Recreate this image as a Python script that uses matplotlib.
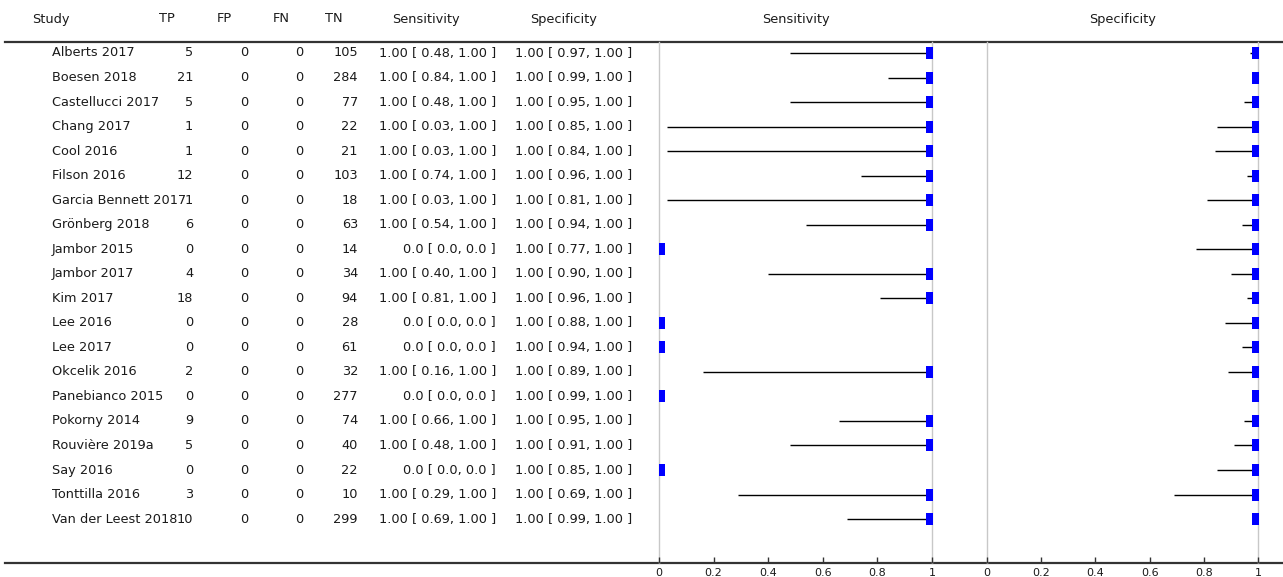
import numpy as np
import matplotlib
matplotlib.use("Agg")
import matplotlib.pyplot as plt

studies = ["Alberts 2017", "Boesen 2018", "Castellucci 2017", "Chang 2017", "Cool 2016",
           "Filson 2016", "Garcia Bennett 2017", "Grönberg 2018", "Jambor 2015", "Jambor 2017",
           "Kim 2017", "Lee 2016", "Lee 2017", "Okcelik 2016", "Panebianco 2015",
           "Pokorny 2014", "Rouvière 2019a", "Say 2016", "Tonttilla 2016", "Van der Leest 2018"]
tp = [5, 21, 5, 1, 1, 12, 1, 6, 0, 4, 18, 0, 0, 2, 0, 9, 5, 0, 3, 10]
fp = [0] * 20
fn = [0] * 20
tn = [105, 284, 77, 22, 21, 103, 18, 63, 14, 34, 94, 28, 61, 32, 277, 74, 40, 22, 10, 299]
sens = [1, 1, 1, 1, 1, 1, 1, 1, 0, 1, 1, 0, 0, 1, 0, 1, 1, 0, 1, 1]
sens_lo = [0.48, 0.84, 0.48, 0.03, 0.03, 0.74, 0.03, 0.54, 0.0, 0.40,
           0.81, 0.0, 0.0, 0.16, 0.0, 0.66, 0.48, 0.0, 0.29, 0.69]
sens_hi = [1, 1, 1, 1, 1, 1, 1, 1, 0, 1, 1, 0, 0, 1, 0, 1, 1, 0, 1, 1]
spec = [1.0] * 20
spec_lo = [0.97, 0.99, 0.95, 0.85, 0.84, 0.96, 0.81, 0.94, 0.77, 0.90,
           0.96, 0.88, 0.94, 0.89, 0.99, 0.95, 0.91, 0.85, 0.69, 0.99]
spec_hi = [1.0] * 20
ticks = [0, 0.2, 0.4, 0.6, 0.8, 1]
tick_labels = ["0", "0.2", "0.4", "0.6", "0.8", "1"]

W, H = 1283, 577
fig = plt.figure(figsize=(W / 100, H / 100), dpi=100)
plt.rcParams['font.family'] = ['DejaVu Sans']

top_px, bot_px = 42, 563
row0, step = 53, 24.53
ylo = (top_px - row0) / step
yhi = (bot_px - row0) / step
bottom = (H - bot_px) / H
height = (bot_px - top_px) / H

txt = "#1a1a1a"
fs = 9.3

tab = fig.add_axes([0, bottom, 1, height])
tab.set_xlim(0, W)
tab.set_ylim(yhi, ylo)
tab.axis("off")

def fmt(v, lo, hi):
    if v == 0:
        return "0.0 [ 0.0, 0.0 ]"
    return f"{v:.2f} [ {lo:.2f}, {hi:.2f} ]"

yh = (19 - row0) / step
tab.text(32, yh, "Study", ha="left", va="center", fontsize=fs, color=txt, clip_on=False)
for x, lab in [(167, "TP"), (224, "FP"), (281, "FN"), (334, "TN"),
               (426, "Sensitivity"), (564, "Specificity"),
               (796, "Sensitivity"), (1123, "Specificity")]:
    tab.text(x, yh, lab, ha="center", va="center", fontsize=fs, color=txt, clip_on=False)

for i, name in enumerate(studies):
    tab.text(52, i, name, ha="left", va="center", fontsize=fs, color=txt)
    tab.text(193, i, str(tp[i]), ha="right", va="center", fontsize=fs, color=txt)
    tab.text(248, i, str(fp[i]), ha="right", va="center", fontsize=fs, color=txt)
    tab.text(303, i, str(fn[i]), ha="right", va="center", fontsize=fs, color=txt)
    tab.text(358, i, str(tn[i]), ha="right", va="center", fontsize=fs, color=txt)
    tab.text(496, i, fmt(sens[i], sens_lo[i], sens_hi[i]), ha="right", va="center", fontsize=fs, color=txt)
    tab.text(632, i, fmt(spec[i], spec_lo[i], spec_hi[i]), ha="right", va="center", fontsize=fs, color=txt)

tab.plot([5, W], [ylo, ylo], color="#333333", lw=1.6, clip_on=False)
tab.plot([5, W], [yhi, yhi], color="#333333", lw=1.6, clip_on=False)

rows = np.arange(len(studies))
for left, right, est, lo, hi in [(659, 932, sens, sens_lo, sens_hi),
                                 (987, 1258, spec, spec_lo, spec_hi)]:
    ax = fig.add_axes([left / W, bottom, (right - left) / W, height])
    ax.set_xlim(0, 1)
    ax.set_ylim(yhi, ylo)
    ax.patch.set_alpha(0)
    for s in ax.spines.values():
        s.set_visible(False)
    ax.axvline(0, color="#c8c8c8", lw=1, zorder=0, clip_on=False)
    ax.axvline(1, color="#c8c8c8", lw=1, zorder=0, clip_on=False)
    ax.hlines(rows, lo, hi, color="black", lw=1, zorder=2)
    ax.plot(est, rows, linestyle="none", marker="s", ms=8.5, color="#0000ff",
            markeredgewidth=0, zorder=3, clip_on=True)
    ax.set_yticks([])
    ax.set_xticks(ticks)
    ax.set_xticklabels(tick_labels)
    ax.tick_params(axis="x", direction="in", length=4, width=1, color="#333333",
                   labelsize=8, pad=3.5, labelcolor=txt)

fig.savefig("out.png", dpi=100)
